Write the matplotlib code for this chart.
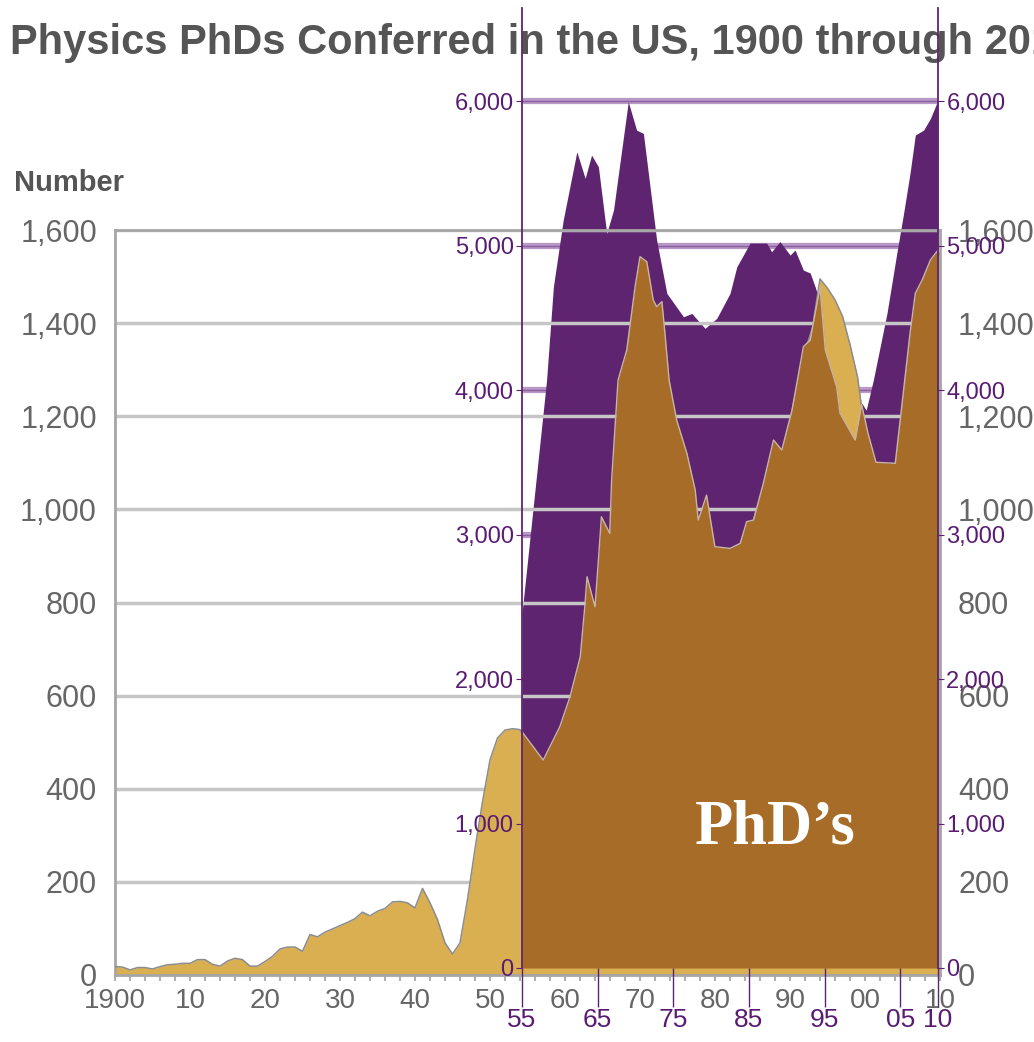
import matplotlib.pyplot as plt

W, H = 1034, 1042

# Physics PhDs per year, gold chart (left axis 0-1600)
phd_years = list(range(1900, 2011))
phd_counts = [18, 17, 11, 16, 16, 13, 18, 22, 23, 25,
              25, 33, 33, 23, 19, 30, 36, 33, 19, 19,
              29, 40, 56, 60, 60, 51, 87, 82, 92, 99,
              106, 113, 121, 135, 127, 137, 143, 157, 158, 155,
              144, 186, 155, 119, 69, 45, 69, 162, 271, 372,
              462, 509, 526, 529, 527, 500, 465, 450, 470, 505,
              545, 600, 670, 780, 770, 930, 930, 1150, 1300, 1420,
              1520, 1490, 1420, 1380, 1230, 1160, 1110, 1030, 950, 980,
              905, 900, 900, 910, 950, 970, 1020, 1080, 1120, 1120,
              1190, 1270, 1340, 1390, 1495, 1475, 1450, 1415, 1354, 1285,
              1165, 1100, 1090, 1090, 1080, 1220, 1360, 1460, 1500, 1535,
              1550]

# purple overlay chart (1955-2010, scale 0-6000)
purple_years = [1955.0, 1958.25, 1959.15, 1960.45, 1962.25, 1963.35, 1964.2, 1965.1,
                1966.2, 1967.1, 1969.05, 1970.15, 1971.05, 1972.8, 1974.15, 1976.35,
                1977.45, 1979.2, 1980.75, 1982.5, 1983.4, 1985.15, 1987.35, 1988.0,
                1989.1, 1990.45, 1991.1, 1992.2, 1993.1, 1993.75, 1994.7, 1996.4,
                1998.4, 1999.95, 2000.5, 2001.45, 2003.25, 2004.55, 2005.45, 2006.3,
                2007.0, 2008.1, 2009.0, 2010.0]
purple_vals = [2456, 4069, 4715, 5176, 5649, 5465, 5626, 5545,
               5084, 5246, 5995, 5799, 5776, 5038, 4669, 4507,
               4530, 4427, 4496, 4669, 4853, 5017, 5017, 4957,
               5027, 4934, 4969, 4830, 4810, 4715, 4560, 4250,
               3960, 3907, 3860, 4069, 4530, 4946, 5223, 5500,
               5765, 5799, 5880, 6007]

# brown "PhD's" area on the overlay chart
brown_years = [1955.0, 1957.8, 1960.0, 1961.35, 1962.7, 1963.3, 1963.6, 1964.65,
               1965.1, 1965.5, 1966.6, 1966.85, 1967.7, 1968.85, 1969.95, 1970.6,
               1971.5, 1972.35, 1972.8, 1973.5, 1973.9, 1974.45, 1975.45, 1976.8,
               1977.9, 1978.3, 1979.4, 1980.5, 1982.5, 1983.85, 1984.7, 1985.6,
               1986.9, 1988.25, 1989.35, 1990.7, 1992.2, 1993.1, 1994.4, 1995.1,
               1996.6, 1997.05, 1999.05, 1999.9, 2000.75, 2001.8, 2004.35, 2004.55,
               2005.45, 2006.3, 2007.0, 2007.9, 2009.0, 2010.0]
brown_vals = [1635, 1439, 1670, 1878, 2154, 2500, 2708, 2500,
              2823, 3123, 3008, 3377, 4069, 4277, 4715, 4923,
              4888, 4623, 4577, 4612, 4392, 4069, 3792, 3562,
              3308, 3100, 3273, 2916, 2904, 2939, 3089, 3100,
              3354, 3654, 3585, 3862, 4300, 4346, 4715, 4277,
              4023, 3839, 3654, 3900, 3700, 3500, 3493, 3585,
              4000, 4392, 4669, 4761, 4900, 4969]

gold_xticks = list(range(1900, 2011, 10))
gold_xticklabels = ['1900', '10', '20', '30', '40', '50', '60', '70', '80', '90', '00', '10']
gold_yticks = list(range(0, 1601, 200))
purple_xticks = [1955, 1965, 1975, 1985, 1995, 2005, 2010]
purple_xticklabels = ['55', '65', '75', '85', '95', '05', '10']
purple_yticks = list(range(0, 6001, 1000))

GOLD = '#d9af52'
BROWN = '#a66c28'
PURPLE = '#5f2470'
PURPLE_TXT = '#5a1c72'
GREY_TXT = '#666666'

plt.rcParams['font.family'] = ['Liberation Sans', 'DejaVu Sans']

fig = plt.figure(figsize=(W / 100, H / 100), dpi=100)


def px_rect(left, top, right, bottom):
    return [left / W, 1 - bottom / H, (right - left) / W, (bottom - top) / H]


# bottom layer: purple area + its gridlines
ax_p = fig.add_axes(px_rect(522, 8, 938, 968), zorder=1)
ax_p.set_xlim(1955, 2010)
ax_p.set_ylim(0, 6644)
for v in purple_yticks[1:]:
    ax_p.axhline(v, color='#b898c6', lw=4.5, zorder=1)
    ax_p.axhline(v, color='#8c5ea0', lw=1, zorder=1)
ax_p.fill_between(purple_years, purple_vals, color=PURPLE, lw=0, zorder=2)
ax_p.axis('off')

# middle layer: gold PhD chart
ax_g = fig.add_axes(px_rect(115, 230, 940, 975), zorder=2)
ax_g.patch.set_alpha(0)
ax_g.set_xlim(1900, 2010)
ax_g.set_ylim(0, 1600)
ax_g.set_axisbelow(True)
ax_g.grid(axis='y', color='#c6c6c6', lw=2.5)
ax_g.fill_between(phd_years, phd_counts, color=GOLD, lw=0, zorder=2)
ax_g.plot(phd_years, phd_counts, color='#8c8c8c', lw=1.1, zorder=3)
ax_g.set_yticks(gold_yticks)
ax_g.set_yticklabels([f'{v:,}' for v in gold_yticks])
ax_g.tick_params(axis='y', length=0, pad=13, labelsize=22, labelcolor=GREY_TXT,
                 labelright=True)
ax_g.set_xticks(gold_xticks)
ax_g.set_xticklabels(gold_xticklabels)
ax_g.set_xticks(range(1900, 2011, 2), minor=True)
ax_g.tick_params(axis='x', which='both', length=4.5, width=1.2, color='#a0a0a0',
                 labelsize=20, labelcolor=GREY_TXT, pad=5)
for s in ax_g.spines.values():
    s.set_color('#a6a6a6')
    s.set_linewidth(2)

# top layer: brown area, purple axes and labels
ax_b = fig.add_axes(px_rect(522, 8, 938, 968), zorder=3)
ax_b.patch.set_visible(False)
ax_b.set_xlim(1955, 2010)
ax_b.set_ylim(0, 6644)
ax_b.fill_between(brown_years, brown_vals, color=BROWN, lw=0)
ax_b.plot(brown_years, brown_vals, color='#c9b5a3', lw=1)
ax_b.spines[['top', 'bottom']].set_visible(False)
ax_b.spines[['left', 'right']].set_color(PURPLE)
ax_b.spines[['left', 'right']].set_linewidth(1.3)
ax_b.set_yticks(purple_yticks)
ax_b.set_yticklabels([f'{v:,}' for v in purple_yticks], fontsize=17, color=PURPLE_TXT)
ax_b.tick_params(axis='y', length=4, color=PURPLE, left=True, right=True,
                 labelleft=True, labelright=True, pad=2)
ax_b.set_xticks(purple_xticks)
ax_b.set_xticklabels(purple_xticklabels, fontsize=19, color=PURPLE_TXT)
ax_b.tick_params(axis='x', length=28, width=1, color=PURPLE, pad=1)

fig.text(10 / W, 1 - 43 / H, 'Physics PhDs Conferred in the US, 1900 through 2010',
         fontsize=30, fontweight='bold', color='#555555', va='center', ha='left', zorder=2)
fig.text(14 / W, 1 - 183 / H, 'Number', fontsize=21, fontweight='bold', color='#555555',
         va='center', ha='left')
fig.text(775 / W, 1 - 828 / H, 'PhD\u2019s', fontsize=45, fontweight='bold',
         family='Liberation Serif', color='white', ha='center', va='center', zorder=10)

fig.savefig('out.png', dpi=100)
